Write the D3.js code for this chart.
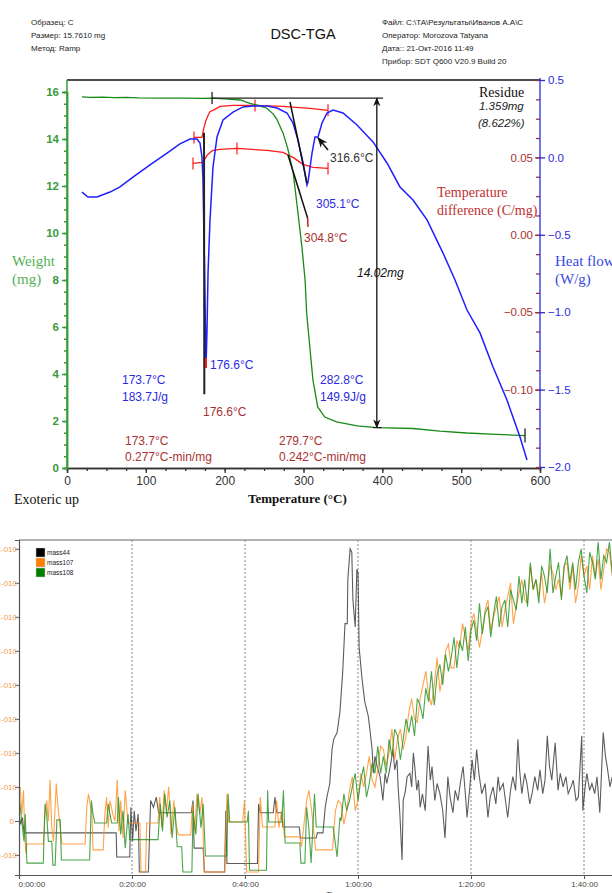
<!DOCTYPE html>
<html>
<head>
<meta charset="utf-8">
<script src="https://cdn.jsdelivr.net/npm/d3@7"></script>
<style>
  body { margin: 0; background: #fff; }
  svg { display: block; }
</style>
</head>
<body>
<svg id="chart" width="612" height="893"></svg>
<script>
// ---------- DSC-TGA (top) ----------
const tempTicks = [0, 100, 200, 300, 400, 500, 600];
const weightTicks = [0, 2, 4, 6, 8, 10, 12, 14, 16];
const heatTicks = [0.5, 0.0, -0.5, -1.0, -1.5, -2.0];
const diffTicks = [0.05, 0.00, -0.05, -0.10];

// [temperature °C, weight mg]
const tgaCurve = [
  [19, 15.79], [30, 15.77], [45, 15.78], [60, 15.76], [75, 15.77], [90, 15.75], [120, 15.74],
  [150, 15.74], [170, 15.73], [184, 15.74], [200, 15.71], [220, 15.66], [232, 15.52], [244, 15.42],
  [254, 15.3], [262, 15.05], [266, 14.85], [274, 14.26], [280, 13.6], [287, 12.55], [293, 10.85],
  [298, 9.4], [302, 8.0], [304, 6.6], [308, 5.15], [312, 3.74], [318, 2.6], [327, 2.17], [342, 1.96],
  [368, 1.79], [393, 1.72], [439, 1.68], [473, 1.57], [507, 1.49], [545, 1.43], [566, 1.40], [581, 1.38]
];
// [temperature °C, heat flow W/g]
const dscCurve = [
  [19, -0.224], [26.6, -0.256], [38.1, -0.256], [54.5, -0.224], [67.2, -0.191], [83.7, -0.127],
  [105.3, -0.049], [126.9, 0.028], [143.3, 0.087], [156, 0.119], [164.9, 0.119], [168.7, 0.093],
  [171.2, 0.003], [172.5, -0.146], [175.1, -0.921], [176.3, -1.36], [177.6, -1.115], [178.9, -0.747],
  [181.4, -0.404], [185.2, -0.062], [190.3, 0.132], [197.9, 0.242], [210.6, 0.293], [223.3, 0.326],
  [235.9, 0.332], [253.7, 0.332], [266.4, 0.319], [279.1, 0.287], [286.7, 0.222], [293, 0.112],
  [299.4, -0.036], [304.4, -0.178], [305.7, -0.159], [310.8, 0.028], [314.6, 0.132], [318.4, 0.132],
  [323.5, 0.222], [329.8, 0.287], [337.4, 0.306], [350.1, 0.287], [367.9, 0.209], [388.2, 0.1],
  [405.9, -0.036], [422.4, -0.191], [438.9, -0.275], [456.7, -0.404], [477, -0.618], [492.2, -0.792],
  [507.4, -0.986], [523.9, -1.134], [540.4, -1.354], [558.1, -1.567], [574.6, -1.806], [583.5, -1.955]
];
// [temperature °C, temperature difference C/mg]
const dtaUpper = [
  [161.1, 0.0629], [171.2, 0.0629], [173.8, 0.0694], [176.3, 0.0739], [178.9, 0.0771], [181.4, 0.0797],
  [185.2, 0.0804], [194.1, 0.0829], [210.6, 0.0836], [238.5, 0.0836], [274, 0.0829], [308.2, 0.0817],
  [331.1, 0.0804]
];
const dtaLower = [
  [159.8, 0.0461], [171.2, 0.0468], [173.8, 0.0481], [177.6, 0.0513], [181.4, 0.0532], [185.2, 0.0545],
  [194.1, 0.0552], [215.6, 0.0558], [253.7, 0.0545], [274, 0.0532], [286.7, 0.05], [299.4, 0.0455],
  [312.1, 0.0435], [331.1, 0.0429]
];
const dtaUpperMarks = [161.1, 238.5, 331.1];
const dtaLowerMarks = [159.8, 215.6, 331.1];
const dtaSpike = [[173.8, 0.066], [174.2, -0.103]];
const dscPeakMark = [[176.3, -1.296], [176.3, -1.36]];
const dscTangent = [[282.9, 0.358], [304.4, -0.165]];
const tgaTangent = [[280.3, 13.32], [305.2, 10.64]];
const tgaTangentEnd = [[305.2, 10.64], [305.7, 10.26]];
const shoulderArrow = [[331.1, 0.048], [318.4, 0.126]];
const stepStart = [184, 15.74];
const stepEnd = [401, 15.74];
const stepArrow = [393, 15.74, 1.72];
const residueMark = [581, 1.38];

// ---------- MS signals (bottom) ----------
const timeTicks = [0, 20, 40, 60, 80, 100]; // minutes
const signalTicks = [-1, 0, 1, 2, 3, 4, 5, 6, 7, 8]; // x 1E-010
const seriesNames = ['mass44', 'mass107', 'mass108'];
const seriesColors = ['#000000', '#ff8000', '#008000'];

// [minutes, signal]
const mass44 = [
  [0, 0.2], [0.3, -0.1], [0.6, 0.1], [0.9, -0.35], [17.2, -0.35], [17.3, -1.06], [19.6, -1.06], [19.8, 0.4],
  [20.1, -0.6], [20.4, 0.3], [20.7, -0.3], [21.1, 0.2], [21.3, -1.5], [22.9, -1.5], [23.3, 0.6], [23.8, 0.4],
  [24.3, 0.7], [24.7, 0.24], [30.5, 0.24], [30.8, 0.6], [31.0, -0.8], [32.6, -0.8], [32.8, -1.5], [36.4, -1.5],
  [36.6, 0.3], [36.8, -1.25], [42.2, -1.25], [42.4, 0.5], [42.7, 0.24], [45.0, 0.24], [45.3, 0.7], [45.6, 0.24],
  [46.5, 0.24], [46.7, -0.18], [49.6, -0.18], [49.8, -0.5], [52.6, -0.5], [52.8, -0.35], [53.8, -0.35],
  [54.2, 0.4], [54.5, 0.7], [55.0, 1.1], [55.4, 2.1], [55.7, 2.4], [56.3, 2.6], [56.8, 3.2], [57.3, 4.4],
  [57.7, 5.8], [58.1, 5.8], [58.2, 7.1], [58.6, 8.0], [58.9, 7.9], [59.1, 6.5], [59.5, 5.7], [59.8, 7.4],
  [60.0, 7.3], [60.2, 5.1], [60.7, 4.2], [61.2, 3.5], [61.8, 3.1], [62.1, 2.7], [62.5, 2.1], [62.7, 1.4],
  [63.0, 1.9], [63.4, 1.6], [63.9, 1.3], [64.2, 0.9], [64.4, 0.6], [64.8, 1.4], [65.1, 1.1], [65.7, 1.6],
  [66.2, 2.1], [66.5, 1.5], [66.9, 1.8], [67.1, 1.0], [67.4, 0.24], [67.8, -1.15], [68.0, 0.6], [68.4, 0.9],
  [68.7, 1.3], [69.2, 1.4], [69.5, 1.0], [69.8, 2.0], [70.1, 1.5], [70.4, 0.9], [70.7, 1.2], [71.0, 0.4],
  [71.4, 0.8], [71.9, 0.3], [72.4, 2.2], [72.8, 1.2], [73.1, 1.6], [73.6, 0.6], [74.0, 1.1], [74.5, 0.8],
  [75.0, 0.3], [75.4, -0.5], [75.9, 1.3], [76.3, 0.7], [76.8, 0.24], [77.2, 0.9], [77.7, 0.6], [78.1, 1.1],
  [78.6, 1.6], [79.0, 0.8], [79.3, 0.1], [79.8, 1.0], [80.2, 1.8], [80.6, 1.2], [81.0, 2.1], [81.4, 1.4],
  [81.9, 0.8], [82.5, 1.1], [83.0, 0.1], [83.4, 0.7], [83.9, 1.0], [84.4, 0.5], [84.8, 1.3], [85.1, 0.9],
  [85.7, 1.1], [86.1, 0.6], [86.5, 0.1], [87.0, 0.9], [87.4, 1.3], [87.9, 0.9], [88.3, 2.4], [88.6, 1.5],
  [89.0, 0.8], [89.5, 1.4], [89.9, 1.1], [90.4, 0.5], [90.8, 0.8], [91.3, 1.3], [91.8, 0.9], [92.2, 1.5],
  [92.7, 0.8], [93.1, 1.2], [93.5, 2.5], [93.9, 1.6], [94.3, 1.2], [94.9, 2.3], [95.4, 0.9], [95.8, 1.4],
  [96.3, 1.0], [96.8, 1.3], [97.2, 0.8], [97.7, 1.0], [98.1, 1.2], [98.6, 0.6], [99.0, 0.7], [99.6, 2.5],
  [99.8, 0.3], [100.2, 1.0], [100.5, 1.4], [101.0, 0.9], [101.4, 1.1], [101.9, 0.8], [102.3, 1.3],
  [102.8, 0.24], [103.4, 2.6], [103.8, 1.9], [104.1, 1.6], [104.6, 1.0], [105.0, 1.3]
];
const mass107Start = [
  [0, 0.7], [0.2, 1.0], [0.5, 0.2], [0.8, 0.9], [1.0, -0.3], [1.2, -0.95], [1.4, -0.68], [4.3, -0.68],
  [4.6, 0.2], [4.9, 0.6], [5.2, 0.0], [5.5, 1.2], [5.8, -0.2], [6.1, -0.6], [6.6, 1.1], [6.9, 0.4],
  [7.3, -0.2], [7.6, -0.68], [11.7, -0.68], [12.0, 0.4], [12.3, 0.8], [12.6, 0.5], [12.9, 0.2], [13.1, -0.85],
  [14.9, -0.85], [15.2, 0.2], [15.5, 0.7], [15.8, -0.2], [16.1, 0.6], [16.6, 0.2], [17.0, 0.0], [17.4, 1.2],
  [17.7, -0.3], [18.0, 0.6], [18.4, -0.5], [18.8, 0.9], [19.3, -0.06], [21.4, -0.06], [21.6, -1.5], [22.4, -1.5],
  [22.6, -0.06], [24.6, -0.06], [24.9, 0.7], [25.3, -0.2], [25.7, 0.9], [26.1, 0.3], [26.5, 1.0], [26.9, -0.4],
  [27.4, 0.6], [27.8, -0.1], [28.2, -0.41], [30.4, -0.41], [30.7, 0.5], [31.1, -0.3], [31.5, 0.8], [32.0, 0.2],
  [32.4, 0.7], [32.8, -1.5], [36.4, -1.5], [36.8, 0.8], [37.1, -0.03], [39.6, -0.03], [39.9, 0.6], [40.3, -1.5],
  [42.4, -1.5], [42.7, 0.7], [43.1, -0.18], [45.3, -0.18], [45.6, 0.6], [46.0, -0.2], [46.5, 0.3], [47.0, -0.47],
  [49.7, -0.47], [50.0, -0.76], [50.9, 0.6], [51.3, 0.9], [51.8, 0.3], [52.5, -0.85], [55.5, -0.85], [56.0, 0.3],
  [56.5, 0.6]
];
const mass108Start = [
  [0, 0.7], [0.3, 0.3], [0.6, -0.2], [0.9, -0.6], [1.1, 0.2], [1.4, -1.24], [4.3, -1.24], [4.6, 0.5],
  [4.9, 0.2], [5.2, -0.6], [5.8, -0.6], [6.0, -1.3], [6.4, -1.3], [6.7, 0.03], [7.3, 0.03], [7.5, -1.15],
  [12.5, -1.15], [12.8, 0.6], [13.1, 0.2], [13.4, -0.06], [15.5, -0.06], [15.8, 0.5], [16.1, 0.2], [16.4, -0.06],
  [17.4, -0.06], [17.6, 0.7], [18.0, -0.4], [18.4, 0.3], [18.8, -0.8], [19.3, 0.2], [19.6, -0.55], [24.6, -0.55],
  [25.0, 0.5], [25.4, -0.3], [25.8, 0.8], [26.2, 0.1], [26.7, 0.6], [27.1, -0.5], [27.6, 0.4], [28.0, -0.76],
  [28.8, -0.76], [29.0, -1.5], [30.6, -1.5], [30.8, 0.3], [31.3, -0.4], [31.7, 0.8], [32.2, -0.2], [32.6, 0.5],
  [33.0, -1.03], [36.8, -1.03], [37.0, 0.8], [37.3, -0.03], [40.4, -0.03], [40.6, 0.3], [40.8, -1.45], [43.8, -1.45],
  [44.0, 0.9], [44.2, -0.03], [46.5, -0.03], [46.8, 0.9], [47.1, -0.65], [49.7, -0.65], [49.9, -1.24], [50.6, -1.24],
  [50.9, 0.4], [51.3, -0.2], [51.7, -1.24], [52.3, 0.8], [52.6, -0.18], [55.6, -0.18], [56.3, -1.06], [56.8, 0.1]
];
// readings every half minute from 57 min on
const riseStart = 57;
const riseStep = 0.5;
const mass107Rise = [
  0.5, -0.1, 0.3, 0.9, 1.3, 0.3, 0.6, 1.4, 1.0, 1.4, 1.9, 1.2, 1.0, 1.5, 2.2, 2.1, 1.6, 2.0, 2.7, 1.8,
  2.4, 2.7, 2.1, 2.5, 3.2, 3.6, 3.0, 2.9, 3.6, 4.0, 4.4, 3.7, 3.4, 4.0, 4.8, 3.8, 4.3, 5.0, 5.2, 4.5,
  4.5, 5.3, 5.1, 5.8, 5.4, 5.0, 5.8, 6.1, 5.6, 5.1, 5.6, 6.2, 6.5, 5.6, 6.0, 6.3, 6.6, 5.7, 6.2, 6.6,
  7.0, 5.8, 6.3, 6.7, 7.1, 6.5, 6.4, 7.5, 6.8, 7.1, 6.6, 7.3, 6.4, 6.9, 7.5, 7.3, 6.8, 7.1, 6.6, 7.5,
  7.6, 6.8, 7.5, 6.4, 6.9, 7.8, 7.2, 7.5, 6.8, 7.8, 7.2, 7.7, 6.8, 7.4, 8.0, 7.9, 7.2
];
const mass108Rise = [
  0.0, 0.8, 0.3, 0.6, 1.0, 1.4, 0.6, 1.2, 1.6, 0.7, 1.1, 1.7, 1.4, 2.2, 1.4, 1.9, 1.4, 2.4, 1.9, 2.7,
  2.5, 1.8, 2.4, 3.0, 2.6, 3.1, 2.5, 3.6, 3.4, 3.0, 3.9, 3.5, 4.4, 3.4, 4.3, 4.6, 4.0, 4.9, 4.4, 4.8,
  5.4, 4.5, 5.3, 5.0, 5.7, 4.7, 5.6, 5.9, 5.3, 6.4, 5.5, 6.1, 6.3, 5.4, 6.1, 6.6, 5.7, 6.3, 6.5, 5.7,
  6.8, 6.5, 6.2, 7.2, 6.4, 7.1, 6.3, 7.6, 6.8, 7.1, 6.4, 7.5, 7.2, 6.7, 8.0, 6.7, 7.2, 7.6, 6.5, 7.5,
  7.8, 7.0, 7.6, 6.8, 7.6, 8.0, 7.2, 6.7, 7.9, 7.6, 7.1, 8.2, 7.1, 7.8, 7.6, 8.2, 7.3
];

const svg = d3.select('#chart');
const sans = 'Liberation Sans, Arial, sans-serif';
const serif = 'Liberation Serif, Times New Roman, serif';
const blue = '#2b2be0';
const darkRed = '#a83232';

// ===== top chart =====
const x = d3.scaleLinear().domain([0, 600]).range([67, 540]);
const yW = d3.scaleLinear().domain([0, 16]).range([468, 92]);
const yH = d3.scaleLinear().domain([-2, 0.5]).range([467, 80]);
const yD = d3.scaleLinear().domain([-0.15, 0.10]).range([467, 80]);

// header
const header = svg.append('g').attr('font-family', sans).attr('font-size', '8px').attr('fill', '#222');
['Образец: C', 'Размер: 15.7610 mg', 'Метод: Ramp'].forEach(function (t, i) {
  header.append('text').attr('x', 31).attr('y', 25 + i * 13).text(t);
});
['Файл: C:\\TA\\Результаты\\Иванов А.А\\C', 'Оператор: Morozova Tatyana', 'Дата:: 21-Окт-2016 11:49',
  'Прибор: SDT Q600 V20.9 Build 20'].forEach(function (t, i) {
  header.append('text').attr('x', 382).attr('y', 25 + i * 13).text(t);
});
svg.append('text').attr('x', 303).attr('y', 39).attr('text-anchor', 'middle')
  .attr('font-family', sans).attr('font-size', '14.5px').attr('fill', '#111').text('DSC-TGA');

// frame top
svg.append('line').attr('x1', 67).attr('x2', 540).attr('y1', 80).attr('y2', 80)
  .attr('stroke', '#111').attr('stroke-width', 1.5);

// x axis
const xAxisG = svg.append('g').attr('transform', 'translate(0,468)');
xAxisG.append('g').call(d3.axisBottom(x).tickValues(d3.range(0, 601, 25)).tickSize(3).tickFormat(''));
xAxisG.append('g').call(d3.axisBottom(x).tickValues(tempTicks).tickSize(5).tickPadding(3));
xAxisG.selectAll('path, line').attr('stroke', '#333').attr('stroke-width', 1.3);
xAxisG.selectAll('text').attr('font-family', sans).attr('font-size', '12px').attr('fill', '#333');

// weight axis
const wAxisG = svg.append('g').attr('transform', 'translate(67,0)');
wAxisG.append('g').call(d3.axisLeft(yW).tickValues(d3.range(0, 16.1, 0.5)).tickSize(3).tickFormat(''));
wAxisG.append('g').call(d3.axisLeft(yW).tickValues(weightTicks).tickSize(5).tickPadding(3));
wAxisG.append('line').attr('x1', 0).attr('x2', 0).attr('y1', 80).attr('y2', 468);
wAxisG.selectAll('path, line').attr('stroke', '#3a9a3a').attr('stroke-width', 1.5);
wAxisG.selectAll('text').attr('font-family', sans).attr('font-size', '11.5px').attr('fill', '#3a9a3a')
  .attr('font-weight', 'bold');

// right axes: heat flow + temperature difference
const rAxisG = svg.append('g').attr('transform', 'translate(540,0)');
rAxisG.append('g').attr('class', 'minor')
  .call(d3.axisLeft(yH).tickValues(d3.range(-2, 0.51, 0.125)).tickSize(4).tickFormat(''));
rAxisG.selectAll('.minor line').attr('stroke', darkRed);
const dAxis = rAxisG.append('g').attr('class', 'diff')
  .call(d3.axisLeft(yD).tickValues(diffTicks).tickSize(5).tickPadding(2).tickFormat(d3.format('.2f')));
dAxis.selectAll('line').attr('stroke', darkRed);
dAxis.selectAll('text').attr('fill', darkRed);
const hAxis = rAxisG.append('g').attr('class', 'heat')
  .call(d3.axisRight(yH).tickValues(heatTicks).tickSize(5).tickPadding(3).tickFormat(d3.format('.1f')));
hAxis.selectAll('line').attr('stroke', blue);
hAxis.selectAll('text').attr('fill', blue);
rAxisG.selectAll('.domain').remove();
rAxisG.append('line').attr('x1', 0).attr('x2', 0).attr('y1', 78).attr('y2', 467)
  .attr('stroke', blue).attr('stroke-width', 1.5);
rAxisG.selectAll('line').attr('stroke-width', 1.3);
rAxisG.selectAll('text').attr('font-family', sans).attr('font-size', '11.5px');

// axis titles
function titleLines (lines, px, py, color, size) {
  lines.forEach(function (t, i) {
    svg.append('text').attr('x', px).attr('y', py + i * 18).attr('font-family', serif)
      .attr('font-size', size || '15px').attr('fill', color).text(t);
  });
}
titleLines(['Weight', '(mg)'], 12, 266, '#55b055');
titleLines(['Heat flow', '(W/g)'], 555, 266, '#3a48e0');
titleLines(['Temperature', 'difference (C/mg)'], 437, 197, '#c03030', '14px');
titleLines(['Residue'], 479, 97, '#111', '14px');
titleLines(['Exoteric up'], 14, 504, '#111', '14px');
svg.append('text').attr('x', 248).attr('y', 503).attr('font-family', serif).attr('font-size', '13px')
  .attr('font-weight', 'bold').attr('fill', '#111').text('Temperature  (°C)');

// curves
const lineW = d3.line().x(function (d) { return x(d[0]); }).y(function (d) { return yW(d[1]); });
const lineH = d3.line().x(function (d) { return x(d[0]); }).y(function (d) { return yH(d[1]); });
const lineD = d3.line().x(function (d) { return x(d[0]); }).y(function (d) { return yD(d[1]); });

const plot = svg.append('g').attr('fill', 'none');
plot.append('path').attr('d', lineD(dtaUpper)).attr('stroke', '#ff1a1a').attr('stroke-width', 1.3);
plot.append('path').attr('d', lineD(dtaLower)).attr('stroke', '#ff1a1a').attr('stroke-width', 1.3);
dtaUpperMarks.forEach(function (t) {
  const p = dtaUpper.find(function (d) { return d[0] === t; });
  plot.append('line').attr('x1', x(t)).attr('x2', x(t)).attr('y1', yD(p[1]) - 6).attr('y2', yD(p[1]) + 6)
    .attr('stroke', '#ff1a1a').attr('stroke-width', 1.2);
});
dtaLowerMarks.forEach(function (t) {
  const p = dtaLower.find(function (d) { return d[0] === t; });
  plot.append('line').attr('x1', x(t)).attr('x2', x(t)).attr('y1', yD(p[1]) - 6).attr('y2', yD(p[1]) + 6)
    .attr('stroke', '#ff1a1a').attr('stroke-width', 1.2);
});
plot.append('path').attr('d', lineW(tgaCurve)).attr('stroke', '#178a17').attr('stroke-width', 1.3);
plot.append('path').attr('d', lineH(dscCurve)).attr('stroke', '#1f1fff').attr('stroke-width', 1.5);
plot.append('path').attr('d', lineD(dtaSpike)).attr('stroke', '#222').attr('stroke-width', 2);
plot.append('path').attr('d', lineH(dscPeakMark)).attr('stroke', '#ff1a1a').attr('stroke-width', 2);
plot.append('path').attr('d', lineH(dscTangent)).attr('stroke', '#111').attr('stroke-width', 1.5);
plot.append('path').attr('d', lineW(tgaTangent)).attr('stroke', '#111').attr('stroke-width', 1.5);
plot.append('path').attr('d', lineW(tgaTangentEnd)).attr('stroke', '#c02020').attr('stroke-width', 1.5);

// arrows
const defs = svg.append('defs');
defs.append('marker').attr('id', 'arr').attr('viewBox', '0 0 10 10').attr('refX', 9).attr('refY', 5)
  .attr('markerWidth', 7).attr('markerHeight', 7).attr('orient', 'auto-start-reverse')
  .append('path').attr('d', 'M0,1 L10,5 L0,9 L3,5 Z').attr('fill', '#111');
plot.append('path').attr('d', lineH(shoulderArrow)).attr('stroke', '#111').attr('stroke-width', 1.5)
  .attr('marker-end', 'url(#arr)');
plot.append('line').attr('x1', x(stepStart[0])).attr('x2', x(stepEnd[0]))
  .attr('y1', yW(stepStart[1])).attr('y2', yW(stepEnd[1])).attr('stroke', '#222').attr('stroke-width', 1.3);
plot.append('line').attr('x1', x(stepStart[0])).attr('x2', x(stepStart[0]))
  .attr('y1', yW(stepStart[1]) - 6).attr('y2', yW(stepStart[1]) + 6).attr('stroke', '#222').attr('stroke-width', 1.3);
plot.append('line').attr('x1', x(stepArrow[0])).attr('x2', x(stepArrow[0]))
  .attr('y1', yW(stepArrow[1])).attr('y2', yW(stepArrow[2])).attr('stroke', '#111').attr('stroke-width', 1.3)
  .attr('marker-start', 'url(#arr)').attr('marker-end', 'url(#arr)');
plot.append('line').attr('x1', x(stepArrow[0]) - 4).attr('x2', x(stepArrow[0]) + 5)
  .attr('y1', yW(stepArrow[2])).attr('y2', yW(stepArrow[2])).attr('stroke', '#222').attr('stroke-width', 1.2);
plot.append('line').attr('x1', x(residueMark[0])).attr('x2', x(residueMark[0]))
  .attr('y1', yW(residueMark[1]) - 7).attr('y2', yW(residueMark[1]) + 7).attr('stroke', '#222').attr('stroke-width', 1.3);

// annotations
function note (t, px, py, color, italic, size) {
  svg.append('text').attr('x', px).attr('y', py).attr('font-family', sans).attr('font-size', size || '12px')
    .attr('fill', color).attr('font-style', italic ? 'italic' : 'normal').text(t);
}
note('316.6°C', 330, 162, '#333');
note('305.1°C', 316, 208, blue);
note('304.8°C', 304, 242, darkRed);
note('14.02mg', 357, 277, '#111', true);
note('1.359mg', 479, 110, '#222', true, '11.5px');
note('(8.622%)', 478, 127, '#222', true, '11.5px');
note('176.6°C', 210, 369, blue);
note('173.7°C', 122, 384, blue);
note('183.7J/g', 122, 401, blue);
note('176.6°C', 203, 416, darkRed);
note('173.7°C', 125, 445, darkRed);
note('0.277°C-min/mg', 125, 461, darkRed);
note('282.8°C', 320, 384, blue);
note('149.9J/g', 320, 401, blue);
note('279.7°C', 279, 445, darkRed);
note('0.242°C-min/mg', 279, 461, darkRed);

// ===== bottom chart =====
const xt = d3.scaleLinear().domain([0, 105]).range([19, 612.25]);
const ys = d3.scaleLinear().domain([-1.59, 8.26]).range([875, 540]);

function riseToPairs (vals) {
  return vals.map(function (v, i) { return [riseStart + i * riseStep, v]; });
}
const series = [mass44, mass107Start.concat(riseToPairs(mass107Rise)), mass108Start.concat(riseToPairs(mass108Rise))];

defs.append('clipPath').attr('id', 'msclip').append('rect')
  .attr('x', 19).attr('y', 540).attr('width', 593).attr('height', 335);

const ms = svg.append('g');
ms.append('line').attr('x1', 19).attr('x2', 612).attr('y1', 540).attr('y2', 540)
  .attr('stroke', '#999').attr('stroke-width', 1.5);
ms.selectAll('.grid').data(timeTicks.slice(1)).enter().append('line').attr('class', 'grid')
  .attr('x1', function (d) { return xt(d); }).attr('x2', function (d) { return xt(d); })
  .attr('y1', 540).attr('y2', 875).attr('stroke', '#888').attr('stroke-dasharray', '2,2');

const msLine = d3.line().x(function (d) { return xt(d[0]); }).y(function (d) { return ys(d[1]); });
const lineColors = ['#333333', '#ff8c1a', '#1f8f1f'];
ms.append('g').attr('clip-path', 'url(#msclip)').selectAll('path').data(series).enter().append('path')
  .attr('d', msLine).attr('fill', 'none')
  .attr('stroke', function (d, i) { return lineColors[i]; })
  .attr('stroke-opacity', 0.8).attr('stroke-width', 1.1);

const msY = ms.append('g').attr('transform', 'translate(19,0)')
  .call(d3.axisLeft(ys).tickValues(signalTicks).tickSize(4).tickPadding(0)
    .tickFormat(function (d) { return d === 0 ? '0' : d + 'E-010'; }));
msY.select('.domain').attr('stroke', '#555').attr('stroke-width', 1.2);
msY.selectAll('line').attr('stroke', '#555');
msY.selectAll('text').attr('font-family', sans).attr('font-size', '8px').attr('fill', '#f0a050').attr('dx', '2');
msY.selectAll('.tick text').filter(function (d) { return d === 0; }).attr('dx', '-1');

const msX = ms.append('g').attr('transform', 'translate(0,875)')
  .call(d3.axisBottom(xt).tickValues(timeTicks).tickSize(4).tickPadding(2)
    .tickFormat(function (d) { return Math.floor(d / 60) + ':' + d3.format('02d')(d % 60) + ':00'; }));
msX.select('.domain').attr('stroke', '#555').attr('stroke-width', 1.2);
msX.selectAll('line').attr('stroke', '#555');
msX.selectAll('text').attr('font-family', sans).attr('font-size', '8px').attr('fill', '#444');
msX.selectAll('.tick text').filter(function (d) { return d === 0; }).attr('text-anchor', 'start').attr('dx', '-1');
ms.append('text').attr('x', 335).attr('y', 897).attr('text-anchor', 'middle').attr('font-family', sans)
  .attr('font-size', '8px').attr('fill', '#444').text('Time');

// legend
const legend = ms.append('g');
seriesNames.forEach(function (name, i) {
  legend.append('rect').attr('x', 36).attr('y', 548 + i * 10).attr('width', 9).attr('height', 9)
    .attr('fill', seriesColors[i]).attr('stroke', '#ccc').attr('stroke-width', 0.5);
  legend.append('text').attr('x', 47).attr('y', 555 + i * 10).attr('font-family', sans)
    .attr('font-size', '6.5px').attr('fill', '#222').text(name);
});
</script>
</body>
</html>
